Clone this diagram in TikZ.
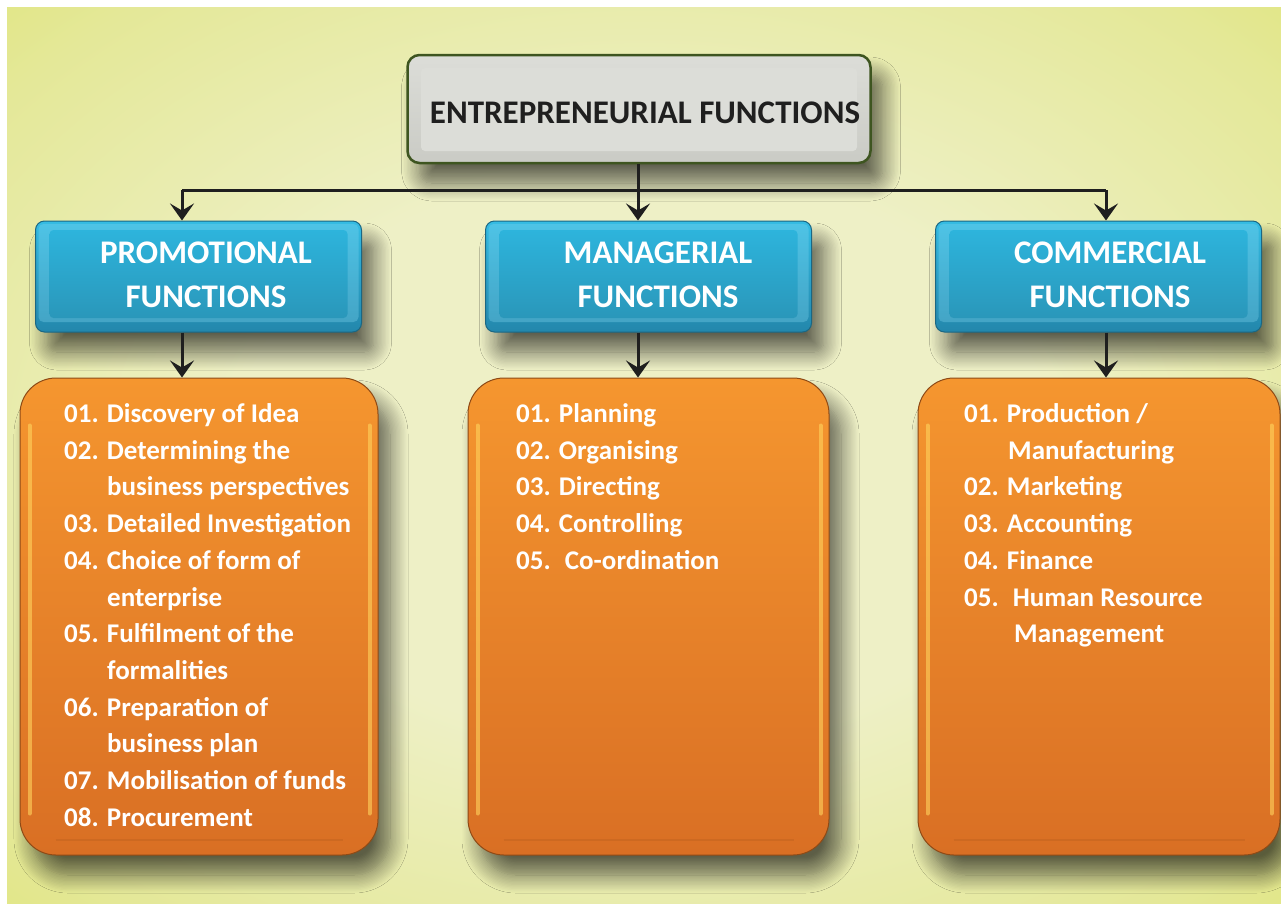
\documentclass[tikz,border=0pt]{standalone}
\usepackage{fontspec}
\setmainfont{Carlito}
\usetikzlibrary{arrows.meta,shadows.blur}
\definecolor{bgD}{HTML}{DCE25C}
\definecolor{bgM}{HTML}{E4E898}
\definecolor{bgL}{HTML}{EEF0C6}
\definecolor{grayT}{HTML}{DCDDD8}
\definecolor{grayB}{HTML}{CACBC5}
\definecolor{grayBd}{HTML}{3E5520}
\definecolor{bluT}{HTML}{35BCE3}
\definecolor{bluB}{HTML}{2387AC}
\definecolor{bluFT}{HTML}{2DB4DC}
\definecolor{bluFB}{HTML}{2A97BA}
\definecolor{bluBd}{HTML}{1B6783}
\definecolor{bluHi}{HTML}{7ED4EE}
\definecolor{orT}{HTML}{F5962F}
\definecolor{orB}{HTML}{D96F24}
\definecolor{orBd}{HTML}{8E4A16}
\definecolor{orHi}{HTML}{FFD35E}
\pgfdeclareradialshading{bgshade}{\pgfpoint{0bp}{0bp}}{color(0bp)=(bgL); color(16bp)=(bgL); color(32bp)=(bgM); color(46bp)=(bgD); color(72bp)=(bgD)}
\tikzset{
  shadowed/.style={blur shadow={shadow xshift=12pt,shadow yshift=-20pt,shadow blur radius=18pt,shadow blur steps=14,shadow opacity=60}},
  topbox/.style={shadowed,draw=grayBd,line width=2.5pt,rounded corners=12pt,top color=grayT,bottom color=grayB,minimum width=463pt,minimum height=108pt,inner sep=0},
  bluebox/.style={shadowed,draw=bluBd,line width=1pt,rounded corners=9pt,top color=bluT,bottom color=bluB,minimum width=326pt,minimum height=111pt,inner sep=0},
  orbox/.style={shadowed,draw=orBd,line width=1pt,rounded corners=36pt,top color=orT,bottom color=orB,minimum height=477pt,inner sep=0},
  titletext/.style={font=\fontsize{33}{40}\selectfont\bfseries,text=black!88,inner sep=0},
  bluetext/.style={font=\fontsize{33}{44}\selectfont\bfseries,text=white,align=center,inner sep=0},
  item/.style={font=\fontsize{27}{36.7}\selectfont\bfseries,text=white,inner sep=0,anchor=base west},
  conn/.style={line width=3pt,draw=black!88},
  arr/.style={conn,-{Stealth[length=17pt,width=24pt,inset=7pt]}},
  hilite/.style={orHi,line width=4pt,opacity=0.6,line cap=round},
}
\begin{document}
\begin{tikzpicture}[x=1pt,y=-1pt]
\useasboundingbox (0,0) rectangle (1281,905);
\fill[white] (0,0) rectangle (1281,905);
\shade[shading=bgshade] (7,7) rectangle (1281,903);
% top box
\node[topbox] (top) at (639,109) {};
\fill[grayT,rounded corners=4pt] (421,68) rectangle (857,151);
\node[titletext] (toptext) at (645,112.5) {ENTREPRENEURIAL FUNCTIONS};
% blue boxes
\foreach \n/\cx in {pf/198.5,mf/648.5,cf/1098.5}{
  \node[bluebox] (\n) at (\cx,276.5) {};
  \fill[bluHi,opacity=0.35,rounded corners=5pt] (\cx-160,224) rectangle (\cx+160,322);
  \shade[top color=bluFT,bottom color=bluFB,rounded corners=4pt] (\cx-149,230) rectangle (\cx+149,318);
}
\node[bluetext] (pft) at (206,274.5) {PROMOTIONAL\\FUNCTIONS};
\node[bluetext] (mft) at (658,274.5) {MANAGERIAL\\FUNCTIONS};
\node[bluetext] (cft) at (1110,274.5) {COMMERCIAL\\FUNCTIONS};
% orange boxes
\node[orbox,minimum width=358pt] (pl) at (199,616.5) {};
\node[orbox,minimum width=361pt] (ml) at (648.5,616.5) {};
\node[orbox,minimum width=362pt] (cl) at (1099,616.5) {};
\foreach \n in {pl,ml,cl}{
  \draw[hilite] ([xshift=10pt,yshift=-48pt]\n.north west) -- ([xshift=10pt,yshift=42pt]\n.south west);
  \draw[hilite] ([xshift=-9pt,yshift=-48pt]\n.north east) -- ([xshift=-9pt,yshift=42pt]\n.south east);
  \draw[black,opacity=0.06,line width=2pt] ([xshift=36pt,yshift=16pt]\n.south west) -- ([xshift=-36pt,yshift=16pt]\n.south east);
}
% connectors
\coordinate (bus) at (638,190);
\coordinate (busL) at (182,190);
\coordinate (busR) at (1106,190);
\draw[conn] (top.south -| bus) -- (bus);
\draw[conn,line cap=butt] (busL) -- (busR);
\draw[arr] (busL) -- (busL |- pf.north);
\draw[arr] (bus) -- (bus |- mf.north);
\draw[arr] (busR) -- (busR |- cf.north);
\draw[arr] (busL |- pf.south) -- (busL |- pl.north);
\draw[arr] (bus |- mf.south) -- (bus |- ml.north);
\draw[arr] (busR |- cf.south) -- (busR |- cl.north);
% promotional list
\node[item] (p1) at (64,422.5) {01. Discovery of Idea};
\node[item] (p2) at (64,459.2) {02. Determining the};
\node[item] (p3) at (107,495.9) {business perspectives};
\node[item] (p4) at (64,532.6) {03. Detailed Investigation};
\node[item] (p5) at (64,569.3) {04. Choice of form of};
\node[item] (p6) at (107,606.0) {enterprise};
\node[item] (p7) at (64,642.7) {05. Fulfilment of the};
\node[item] (p8) at (107,679.4) {formalities};
\node[item] (p9) at (64,716.1) {06. Preparation of};
\node[item] (p10) at (107,752.8) {business plan};
\node[item] (p11) at (64,789.5) {07. Mobilisation of funds};
\node[item] (p12) at (64,826.2) {08. Procurement};
% managerial list
\node[item] (m1) at (516,422.5) {01. Planning};
\node[item] (m2) at (516,459.2) {02. Organising};
\node[item] (m3) at (516,495.9) {03. Directing};
\node[item] (m4) at (516,532.6) {04. Controlling};
\node[item] (m5) at (516,569.3) {05.\hspace{6pt} Co-ordination};
% commercial list
\node[item] (c1) at (964,422.5) {01. Production /};
\node[item] (c2) at (1008,459.2) {Manufacturing};
\node[item] (c3) at (964,495.9) {02. Marketing};
\node[item] (c4) at (964,532.6) {03. Accounting};
\node[item] (c5) at (964,569.3) {04. Finance};
\node[item] (c6) at (964,606.0) {05.\hspace{6pt} Human Resource};
\node[item] (c7) at (1014,642.7) {Management};
\end{tikzpicture}
\end{document}
